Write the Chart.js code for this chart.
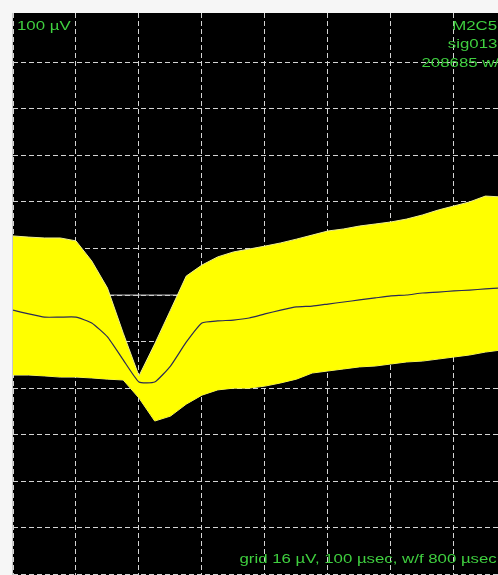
<!DOCTYPE html>
<html>
<head>
<meta charset="utf-8">
<script src="https://cdn.jsdelivr.net/npm/chart.js@4/dist/chart.umd.min.js"></script>
<style>
  html, body { margin: 0; padding: 0; width: 498px; height: 575px; overflow: hidden; background: #f6f6f6; }
  #panel { position: absolute; left: 12px; top: 13px; width: 486px; height: 562px; background: #000; border-left: 1px solid #c8c8c8; box-sizing: border-box; }
  #wrap { position: absolute; left: 13px; top: 13px; width: 485px; height: 562px; }
  .lbl { position: absolute; font-family: "Liberation Sans", Arial, sans-serif; font-size: 12px; color: #3fcf3f; white-space: nowrap; line-height: 12px; }
  .left { transform: scaleX(1.4); transform-origin: left top; }
  .right { transform: scaleX(1.4); transform-origin: right top; text-align: right; }
</style>
</head>
<body>
<div id="panel"></div>
<div id="wrap"><canvas id="chart"></canvas></div>
<div class="lbl left" style="left:17px; top:20px;">100 µV</div>
<div class="lbl right" style="right:1px; top:20px;">M2C5</div>
<div class="lbl right" style="right:1px; top:38px;">sig013</div>
<div class="lbl right" style="right:-6px; top:57px;">208685 w/f</div>
<div class="lbl right" style="right:1px; top:553px;">grid 16 µV, 100 µsec, w/f 800 µsec</div>
<script>
// sample times in µsec, 25 µsec per sample
const times = [0, 25, 50, 75, 100, 125, 150, 175, 200, 225, 250, 275, 300, 325, 350, 375,
               400, 425, 450, 475, 500, 525, 550, 575, 600, 625, 650, 675, 700, 725, 750, 775];

// upper and lower envelope of all overlaid waveforms, µV
const upperEnv = [20.3, 19.9, 19.6, 19.6, 18.6, 11.7, 2.4, -13.1, -27.8, -16.8, -5.2, 6.5, 10.3, 13.1, 14.8, 15.8,
                  16.8, 17.9, 19.2, 20.6, 22.0, 22.7, 23.7, 24.4, 25.1, 26.1, 27.5, 29.2, 30.6, 32.0, 34.0, 33.7];
const lowerEnv = [-27.5, -27.5, -27.8, -28.2, -28.2, -28.5, -28.9, -29.2, -35.4, -43.3, -41.6, -37.5, -34.4, -32.6, -32.0, -32.0,
                  -31.3, -30.2, -28.9, -26.8, -26.1, -25.4, -24.7, -24.4, -23.7, -23.0, -22.7, -22.0, -21.3, -20.6, -19.6, -18.9];

// mean waveform, µV
const meanWave = [-5.2, -6.5, -7.6, -7.6, -7.6, -9.6, -14.4, -22.3, -29.9, -29.9, -24.4, -16.2, -9.6, -8.9, -8.6, -7.9,
                  -6.5, -5.2, -4.1, -3.8, -3.1, -2.4, -1.7, -1.0, -0.3, 0.0, 0.7, 1.0, 1.4, 1.7, 2.1, 2.4];

const gridUv = 16;
const gridUsec = 100;
const xMax = 770;
const yMin = -96.2, yMax = 96.9;

const toPoints = vals => vals.map((v, i) => ({ x: times[i], y: v }));

const gridColor = "#d4d4d4";

new Chart(document.getElementById("chart"), {
    type: "line",
    data: {
        datasets: [
            {
                label: "mean",
                data: toPoints(meanWave),
                borderColor: "#2a2a55",
                borderWidth: 1.2,
                pointRadius: 0,
                fill: false,
                tension: 0.15
            },
            {
                label: "upper",
                data: toPoints(upperEnv),
                borderColor: "#eeee90",
                backgroundColor: "#ffff00",
                borderWidth: 1,
                pointRadius: 0,
                fill: "+1"
            },
            {
                label: "lower",
                data: toPoints(lowerEnv),
                borderColor: "#eeee90",
                borderWidth: 1,
                pointRadius: 0,
                fill: false
            },
            {
                // solid 0 µV baseline, drawn first so the waveforms cover it
                label: "zero",
                data: toPoints(times.map(() => 0)),
                borderColor: "#c8c8c8",
                borderWidth: 1,
                pointRadius: 0,
                fill: false
            }
        ]
    },
    options: {
        responsive: true,
        maintainAspectRatio: false,
        animation: false,
        layout: { padding: 0 },
        plugins: { legend: { display: false }, tooltip: { enabled: false } },
        scales: {
            x: {
                type: "linear",
                min: 0,
                max: xMax,
                ticks: { display: false, stepSize: gridUsec, includeBounds: false },
                grid: { color: gridColor, lineWidth: 1, drawTicks: false, borderDash: [5, 3] },
                border: { display: false, dash: [5, 3] }
            },
            y: {
                type: "linear",
                min: yMin,
                max: yMax,
                ticks: { display: false, stepSize: gridUv, includeBounds: false },
                // the top line sits under the window frame
                grid: {
                    color: c => (c.tick && c.tick.value >= 96 ? "transparent" : gridColor),
                    lineWidth: 1,
                    drawTicks: false,
                    borderDash: [5, 3]
                },
                border: { display: false, dash: [5, 3] }
            }
        }
    }
});
</script>
</body>
</html>
